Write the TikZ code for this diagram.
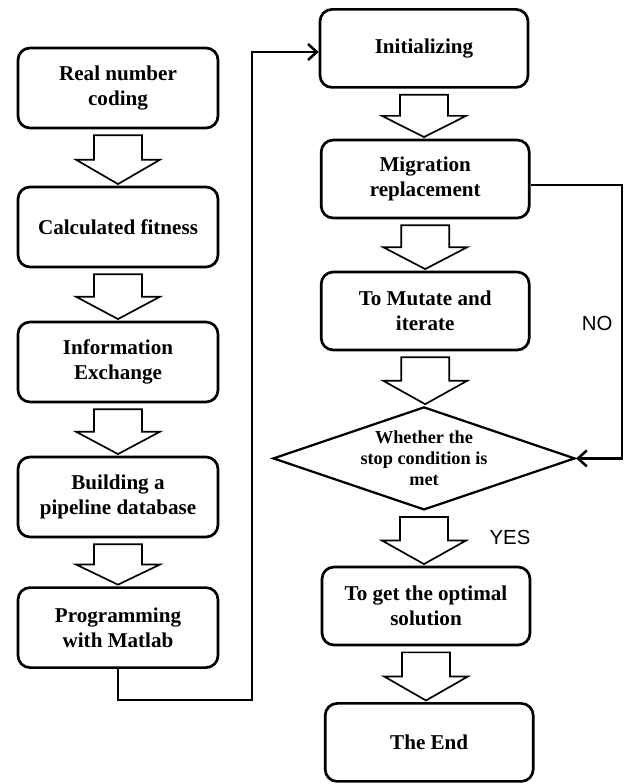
\documentclass[tikz,border=0pt]{standalone}
\usepackage{fontspec}
\setmainfont{Liberation Serif}
\newfontfamily\arialfont{Liberation Sans}
\usetikzlibrary{shapes.geometric,arrows.meta,calc}
% hollow block arrow between two stacked nodes
\newcommand{\hollowarrow}[2]{%
\path[hollow] let \p1=($(#1.south)+(0,-0.15)$), \p2=($(#2.north)+(0,0.04)$) in
  (\x1-0.6cm,\y1) -- (\x1+0.6cm,\y1) -- (\x1+0.6cm,{(\y1+\y2)/2})
  -- (\x1+1.05cm,{(\y1+\y2)/2}) -- (\x1,\y2) -- (\x1-1.05cm,{(\y1+\y2)/2})
  -- (\x1-0.6cm,{(\y1+\y2)/2}) -- cycle;}
\begin{document}
\begin{tikzpicture}[
  box/.style={draw, line width=1.9pt, rounded corners=0.3cm, minimum width=5cm,
    minimum height=2cm, align=center, font=\fontsize{15}{18}\selectfont\bfseries},
  rbox/.style={box, minimum width=5.2cm, minimum height=1.95cm},
  cond/.style={draw, diamond, line width=1.6pt, minimum width=7.55cm,
    minimum height=2.575cm, inner sep=0pt},
  condtext/.style={align=center, font=\fontsize{13}{15}\selectfont\bfseries},
  hollow/.style={draw, line width=1.2pt, fill=white, line join=miter},
  line/.style={line width=1.8pt, -{Straight Barb[length=2.2mm,width=4mm]}},
  ans/.style={font=\arialfont\fontsize{14.5}{16}\selectfont}]
\useasboundingbox (0,0) rectangle (15.6,-19.6);
% left column
\node[box] (coding) at (2.95,-2.2) {Real number\\coding};
\node[box] (fitness) at (2.95,-5.675) {Calculated fitness};
\node[box] (exchange) at (2.95,-9.05) {Information\\Exchange};
\node[box] (database) at (2.95,-12.425) {Building a\\pipeline database};
\node[box] (matlab) at (2.95,-15.69) {Programming\\with Matlab};
% right column
\node[rbox] (init) at (10.6,-1.21) {Initializing};
\node[rbox] (migration) at (10.63,-4.475) {Migration\\replacement};
\node[rbox] (mutate) at (10.63,-7.775) {To Mutate and\\iterate};
\node[cond] (stop) at (10.6,-11.46) {};
\node[condtext] (stoptext) at (stop.center) {Whether the\\stop condition is\\met};
\node[rbox] (solution) at (10.65,-15.15) {To get the optimal\\solution};
\node[rbox] (end) at (10.73,-18.56) {The End};
% block arrows
\hollowarrow{coding}{fitness}
\hollowarrow{fitness}{exchange}
\hollowarrow{exchange}{database}
\hollowarrow{database}{matlab}
\hollowarrow{init}{migration}
\hollowarrow{migration}{mutate}
\hollowarrow{mutate}{stop}
\hollowarrow{stop}{solution}
\hollowarrow{solution}{end}
% connectors
\coordinate (back) at (6.3,-17.5);
\draw[line] (matlab.south) |- (back) |- ($(init.west)+(0,-0.09)$);
\coordinate (loop) at (15.55,-11.46);
\draw[line] ($(migration.east)+(0,-0.15)$) -| (loop) -- (stop.east);
\node[ans] (no) at (14.93,-8.08) {NO};
\node[ans] (yes) at (12.75,-13.43) {YES};
\end{tikzpicture}
\end{document}
